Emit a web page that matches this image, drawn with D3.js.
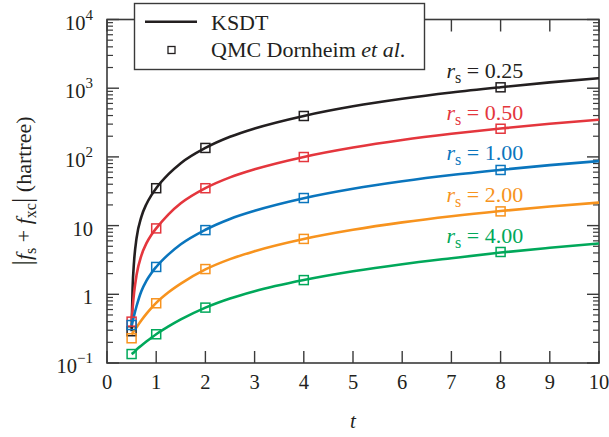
<!DOCTYPE html>
<html><head><meta charset="utf-8">
<script src="https://cdn.jsdelivr.net/npm/d3@7"></script>
<style>body{margin:0;background:#fff}svg{display:block}text{font-family:"Liberation Serif","DejaVu Serif",serif}</style>
</head><body><svg id="c" width="609" height="437"></svg>
<script>
// curve sample temperatures (t)
const tCurve = [0.5,0.52,0.55,0.6,0.7,0.8,0.9,1,1.25,1.5,2,2.5,3,4,5,6,7,8,9,10];
const ksdt025 = [0.29,1.2,3.0,6.5,13.5,20.5,27.5,35,56,81,135,196,259,395,545,703,868,1035,1215,1395];
const ksdt050 = [0.40,0.62,1.05,1.9,3.7,5.5,7.3,9.1,14.6,21.1,35.1,50.4,66,100,137,176.5,217,259,303,347];
const ksdt100 = [0.35,0.40,0.49,0.67,1.12,1.57,2.03,2.5,3.81,5.35,8.7,12.5,16.4,25.0,34.3,44.1,54.4,64.8,75.9,87];
const ksdt200 = [0.26,0.273,0.293,0.33,0.42,0.52,0.63,0.75,1.07,1.43,2.3,3.25,4.25,6.4,8.7,11.15,13.7,16.3,18.95,21.6];
const ksdt400 = [0.135,0.138,0.143,0.157,0.18,0.205,0.232,0.262,0.34,0.43,0.64,0.87,1.11,1.61,2.16,2.74,3.35,4.05,4.75,5.5];
// QMC points
const tQmc = [0.5,1,2,4,8];
const qmc025 = [0.29,35,135,394,1030];
const qmc050 = [0.40,9.1,35,99.6,257];
const qmc100 = [0.357,2.5,8.6,25.2,64.5];
const qmc200 = [0.229,0.74,2.33,6.4,16.1];
const qmc400 = [0.135,0.262,0.64,1.61,4.13];
const rsLabels = ["0.25","0.50","1.00","2.00","4.00"];
const colors = ["#231f20","#e4363d","#0a75bd","#f7931e","#00a85a"];
const xTicks = [0,1,2,3,4,5,6,7,8,9,10];
const yMajor = [0.1,1,10,100,1000,10000];
const yLabels = [["10","\u22121"],["1",""],["10",""],["10","2"],["10","3"],["10","4"]];

const curves = [ksdt025,ksdt050,ksdt100,ksdt200,ksdt400];
const qmcs = [qmc025,qmc050,qmc100,qmc200,qmc400];

const L=107, R=599, T=19.5, B=363;
const svg = d3.select("#c");
const x = d3.scaleLinear().domain([0,10]).range([L,R]);
const y = d3.scaleLog().domain([0.1,10000]).range([B,T]);
const axisCol = "#3a3a3a";

// minor ticks
const minor = [];
for (let e=-1;e<4;e++) for (let k=2;k<=9;k++) minor.push(k*Math.pow(10,e));

const g = svg.append("g");
[[L,1],[R,-1]].forEach(([px,dir])=>{
  g.selectAll(null).data(yMajor).enter().append("line")
    .attr("x1",px).attr("x2",px+dir*12).attr("y1",d=>y(d)).attr("y2",d=>y(d))
    .attr("stroke",axisCol).attr("stroke-width",1.4);
  g.selectAll(null).data(minor).enter().append("line")
    .attr("x1",px).attr("x2",px+dir*6).attr("y1",d=>y(d)).attr("y2",d=>y(d))
    .attr("stroke",axisCol).attr("stroke-width",1.2);
});
[[B,-1],[T,1]].forEach(([py,dir])=>{
  g.selectAll(null).data(xTicks).enter().append("line")
    .attr("x1",d=>x(d)).attr("x2",d=>x(d)).attr("y1",py).attr("y2",py+dir*12)
    .attr("stroke",axisCol).attr("stroke-width",1.4);
});
g.append("rect").attr("x",L).attr("y",T).attr("width",R-L).attr("height",B-T)
  .attr("fill","none").attr("stroke",axisCol).attr("stroke-width",1.6);

g.selectAll(null).data(xTicks).enter().append("text")
  .attr("x",d=>x(d)).attr("y",B+26).attr("text-anchor","middle")
  .attr("font-size",20.5).attr("fill","#231f20").text(d=>d);
yMajor.forEach((v,i)=>{
  const t = g.append("text").attr("x",L-14).attr("y",y(v)+10).attr("text-anchor","end")
    .attr("font-size",20.5).attr("fill","#231f20");
  t.append("tspan").text(yLabels[i][0]);
  if (yLabels[i][1]) t.append("tspan").attr("dy",-10).attr("font-size",15).text(yLabels[i][1]);
});

g.append("text").attr("x",x(5)).attr("y",428).attr("text-anchor","middle")
  .attr("font-size",21).attr("font-style","italic").attr("fill","#231f20").text("t");
const yt = g.append("text").attr("transform","translate(31,191) rotate(-90)")
  .attr("text-anchor","middle").attr("font-size",22).attr("fill","#231f20");
yt.append("tspan").attr("font-size",27).text("|");
yt.append("tspan").attr("font-style","italic").text("f");
yt.append("tspan").attr("font-size",16).attr("dy",5).text("s");
yt.append("tspan").attr("dy",-5).text(" + ");
yt.append("tspan").attr("font-style","italic").text("f");
yt.append("tspan").attr("font-size",16).attr("dy",5).text("xc");
yt.append("tspan").attr("dy",-5).attr("font-size",27).text("|");
yt.append("tspan").text(" (hartree)");

const line = d3.line().x(d=>x(d[0])).y(d=>y(d[1])).curve(d3.curveMonotoneX);
curves.forEach((c,i)=>{
  g.append("path").datum(tCurve.map((t,j)=>[t,c[j]]))
    .attr("d",line).attr("fill","none").attr("stroke",colors[i]).attr("stroke-width",2.6);
});
const S=9;
qmcs.forEach((q,i)=>{
  g.selectAll(null).data(tQmc.map((t,j)=>[t,q[j]])).enter().append("rect")
    .attr("x",d=>x(d[0])-S/2).attr("y",d=>y(d[1])-S/2).attr("width",S).attr("height",S)
    .attr("fill","none").attr("stroke",colors[i]).attr("stroke-width",1.5);
});

const labY = [78,120,160,201.5,242.5];
rsLabels.forEach((lab,i)=>{
  const t = g.append("text").attr("x",446.5).attr("y",labY[i]).attr("font-size",22).attr("fill",colors[i]);
  t.append("tspan").attr("font-style","italic").text("r");
  t.append("tspan").attr("font-size",16).attr("dy",5).text("s");
  t.append("tspan").attr("dy",-5).text(" = "+lab);
});

const lg = g.append("g");
lg.append("rect").attr("x",134.5).attr("y",3.5).attr("width",290).attr("height",66)
  .attr("fill","#fff").attr("stroke",axisCol).attr("stroke-width",1.4);
lg.append("line").attr("x1",145).attr("x2",197).attr("y1",21.7).attr("y2",21.7)
  .attr("stroke","#231f20").attr("stroke-width",2.6);
lg.append("rect").attr("x",171.5-3.5).attr("y",50-3.5).attr("width",7).attr("height",7)
  .attr("fill","none").attr("stroke","#231f20").attr("stroke-width",1.3);
lg.append("text").attr("x",211).attr("y",29.5).attr("font-size",22).attr("fill","#231f20").text("KSDT");
const q = lg.append("text").attr("x",211).attr("y",57).attr("font-size",22).attr("fill","#231f20");
q.append("tspan").text("QMC Dornheim ");
q.append("tspan").attr("font-style","italic").text("et al");
q.append("tspan").text(".");
</script></body></html>
